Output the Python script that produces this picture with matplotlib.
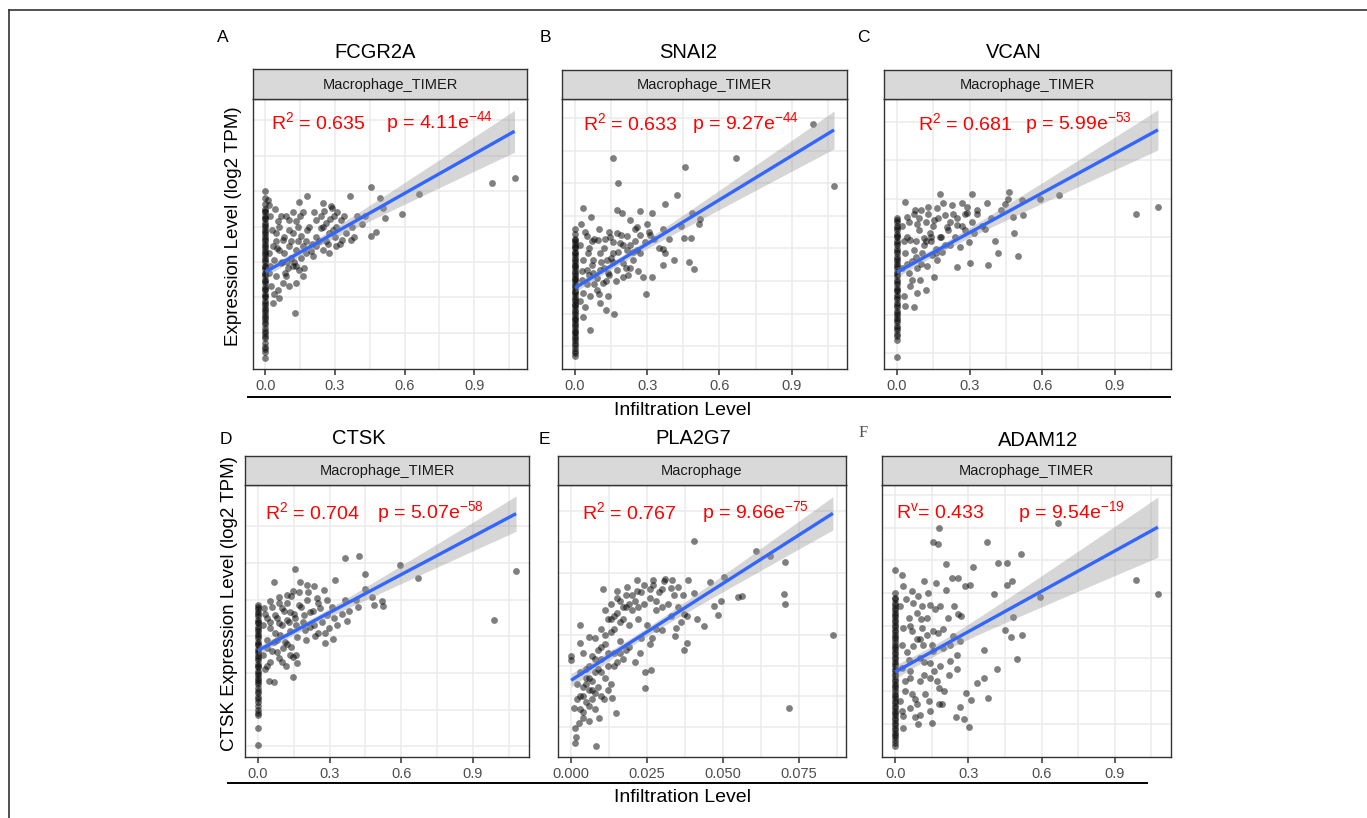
import matplotlib
matplotlib.use('Agg')
import matplotlib.pyplot as plt
from matplotlib.lines import Line2D
import numpy as np

plt.rcParams['font.family'] = ['Liberation Sans', 'DejaVu Sans']
plt.rcParams['mathtext.default'] = 'regular'

W, H = 1367, 818

genes = ['FCGR2A', 'SNAI2', 'VCAN', 'CTSK', 'PLA2G7', 'ADAM12']
letters = ['A', 'B', 'C', 'D', 'E', 'F']
strips = ['Macrophage_TIMER', 'Macrophage_TIMER', 'Macrophage_TIMER',
          'Macrophage_TIMER', 'Macrophage', 'Macrophage_TIMER']
r2_labels = ['R$^{2}$ = 0.635', 'R$^{2}$ = 0.633', 'R$^{2}$ = 0.681',
             'R$^{2}$ = 0.704', 'R$^{2}$ = 0.767', 'R$^{v}$= 0.433']
p_labels = ['p = 4.11e$^{-44}$', 'p = 9.27e$^{-44}$', 'p = 5.99e$^{-53}$',
            'p = 5.07e$^{-58}$', 'p = 9.66e$^{-75}$', 'p = 9.54e$^{-19}$']
ylabel_top = 'Expression Level (log2 TPM)'
ylabel_bottom = 'CTSK Expression Level (log2 TPM)'
xlabel = 'Infiltration Level'

# fitted line: value at x=0, value at the largest x,
# and half-width of the grey band at the largest x
fit_start = [3.72, 2.79, 3.10, 3.61, 2.52, 3.58]
fit_end = [7.69, 7.64, 6.79, 7.34, 7.94, 8.01]
band_end = [0.59, 0.58, 0.52, 0.48, 0.54, 0.92]

# ---- A: FCGR2A ----
x_a = [0.01, 0.017, 0.146, 0.177, 0.25, 0.289, 0.363, 0.164, 0.089, 0.053, 0.103, 0.131,
       0.046, 0.074, 0.117, 0.153, 0.189, 0.217, 0.239, 0.26, 0.274, 0.303, 0.324, 0.346,
       0.367, 0.331, 0.303, 0.274, 0.246, 0.217, 0.203, 0.174, 0.16, 0.131, 0.103, 0.081,
       0.06, 0.031, 0.039, 0.067, 0.096, 0.117, 0.146, 0.167, 0.046, 0.074, 0.053, 0.024,
       0.06, 0.103, 0.131, 0.031, 0.129, 0.017, 0.017,
       0.453, 0.493, 0.507, 0.517, 0.589, 0.663, 0.457, 0.477, 0.417, 0.396, 0.374, 0.977,
       1.074, 0.296, 0.281, 0.253,
       0.02, 0.03, 0.04, 0.05, 0.06, 0.07, 0.08, 0.09, 0.1, 0.11,
       0.12, 0.13, 0.14, 0.15, 0.16, 0.18, 0.2, 0.22, 0.24, 0.26,
       0.28, 0.3, 0.32, 0.02, 0.035, 0.045, 0.065, 0.085, 0.095, 0.11,
       0.125, 0.14, 0.155, 0.175, 0.195, 0.21, 0.23, 0.25, 0.27, 0.29,
       0.31, 0.34, 0.38, 0.43]
y_a = [5.76, 5.62, 5.68, 5.87, 5.66, 5.52, 5.85, 5.4, 5.29, 5.15, 5.19, 5.15,
       4.82, 4.63, 4.82, 4.72, 5.0, 5.19, 4.96, 5.1, 4.82, 5.0, 5.19, 4.82,
       4.63, 4.63, 4.44, 4.25, 4.35, 4.44, 4.16, 4.25, 4.44, 4.35, 4.44, 4.25,
       4.35, 4.44, 4.07, 3.97, 3.83, 3.88, 3.78, 3.83, 3.6, 3.41, 3.22, 3.31,
       2.99, 3.31, 3.41, 2.85, 2.56, 3.69, 4.25,
       6.11, 5.8, 5.52, 5.24, 5.35, 5.92, 4.74, 4.85, 5.08, 5.29, 5.0, 6.23,
       6.36, 5.29, 5.57, 5.43,
       5.3, 4.9, 5.5, 4.4, 5.0, 4.0, 4.7, 3.6, 4.9, 4.1,
       5.4, 3.9, 4.6, 5.3, 3.6, 4.9, 4.5, 4.7, 5.3, 4.6,
       5.2, 4.7, 4.5, 3.9, 3.1, 4.6, 5.3, 3.7, 4.0, 4.6,
       4.0, 5.0, 4.1, 4.6, 4.3, 5.4, 4.6, 5.0, 4.5, 4.9,
       5.4, 5.3, 4.7, 5.3]
y_a_zero = [6.0, 5.8, 5.65, 5.5, 5.4, 5.3, 5.2, 5.1, 5.0, 4.9, 4.8, 4.7, 4.6, 4.5, 4.4,
            4.3, 4.2, 4.1, 4.0, 3.9, 3.8, 3.7, 3.6, 3.5, 3.4, 3.3, 3.2, 3.1, 3.0, 2.9,
            2.8, 2.7, 2.6, 2.5, 2.4, 2.3, 2.15, 2.0, 1.85, 1.7, 1.55, 1.45, 1.3,
            5.45, 5.25, 5.05, 4.85, 4.65, 4.45, 4.25, 4.05, 3.85, 3.65, 3.45, 3.25,
            3.05, 2.85, 2.65, 2.45, 2.25, 2.05, 1.9, 1.6]

# ---- B: SNAI2 ----
x_b = [0.99, 1.076, 0.669, 0.157, 0.458, 0.18, 0.422, 0.374, 0.032, 0.067,
       0.025, 0.176, 0.194, 0.229, 0.27, 0.321, 0.298, 0.259, 0.309, 0.367,
       0.485, 0.519, 0.515, 0.454, 0.482, 0.367, 0.374, 0.411, 0.475, 0.496,
       0.367, 0.319, 0.284, 0.295, 0.162, 0.129, 0.062, 0.035,
       0.048, 0.069, 0.097, 0.125, 0.145, 0.173, 0.187, 0.215, 0.249, 0.27,
       0.242, 0.2, 0.159, 0.132, 0.104, 0.076, 0.055, 0.035, 0.048, 0.076,
       0.104, 0.139, 0.173, 0.2, 0.118, 0.09, 0.062, 0.035, 0.104, 0.139,
       0.028, 0.229, 0.256, 0.215,
       0.02, 0.03, 0.04, 0.05, 0.06, 0.07, 0.08, 0.09, 0.1, 0.11,
       0.12, 0.13, 0.14, 0.15, 0.16, 0.17, 0.19, 0.21, 0.23, 0.25,
       0.27, 0.29, 0.31, 0.33, 0.02, 0.04, 0.06, 0.08, 0.1, 0.12,
       0.14, 0.16, 0.18, 0.2, 0.22, 0.24, 0.26, 0.35, 0.39, 0.44]
y_b = [7.82, 5.93, 6.79, 6.79, 6.49, 6.02, 5.63, 5.36, 5.24, 4.96,
       4.76, 5.19, 5.08, 4.88, 5.14, 5.08, 4.76, 4.66, 4.52, 4.59,
       5.08, 4.91, 4.76, 4.32, 4.32, 3.98, 3.86, 3.65, 3.58, 3.38,
       3.5, 3.11, 3.11, 2.6, 1.99, 2.1, 1.51, 1.89,
       4.37, 4.22, 4.27, 4.29, 4.35, 4.47, 4.17, 3.96, 4.22, 3.86,
       3.65, 3.55, 3.86, 3.65, 3.86, 3.65, 3.86, 3.65, 3.35, 3.25,
       3.35, 3.25, 3.35, 3.14, 2.94, 2.74, 2.53, 2.63, 2.33, 2.53,
       3.04, 3.4, 3.96, 4.37,
       4.1, 3.3, 4.5, 2.9, 4.0, 3.5, 4.3, 3.1, 4.6, 3.6,
       4.0, 3.0, 4.5, 3.7, 4.2, 3.0, 4.4, 3.4, 4.1, 4.6,
       4.4, 4.2, 4.4, 4.3, 2.4, 2.2, 3.2, 2.9, 2.6, 3.4,
       3.2, 3.6, 3.9, 4.1, 3.2, 3.9, 3.3, 4.0, 4.3, 4.7]
y_b_zero = [4.6, 4.45, 4.3, 4.2, 4.1, 4.0, 3.9, 3.8, 3.7, 3.6, 3.5, 3.4, 3.3, 3.2, 3.1,
            3.0, 2.9, 2.8, 2.7, 2.6, 2.5, 2.4, 2.3, 2.2, 2.1, 2.0, 1.9, 1.8, 1.7, 1.6,
            1.5, 1.4, 1.3, 1.2, 1.1, 0.95, 0.8, 0.7,
            4.25, 4.05, 3.85, 3.65, 3.45, 3.25, 3.05, 2.85, 2.65, 2.45, 2.25, 2.05,
            1.85, 1.65, 1.45, 1.25, 1.05, 0.85]

# ---- C: VCAN ----
x_c = [0.99, 1.079, 0.668, 0.593, 0.462, 0.448, 0.517, 0.52, 0.478, 0.482,
       0.499, 0.418, 0.376, 0.404, 0.365, 0.31, 0.176, 0.032, 0.249, 0.3,
       0.072, 0.032, 0.083, 0.12,
       0.041, 0.083, 0.09, 0.127, 0.165, 0.2, 0.227, 0.269, 0.289, 0.331,
       0.372, 0.221, 0.248, 0.283, 0.317, 0.179, 0.138, 0.11, 0.055, 0.034,
       0.069, 0.103, 0.145, 0.186, 0.221, 0.262, 0.296, 0.165, 0.124, 0.083,
       0.048, 0.152, 0.096, 0.055, 0.028, 0.207, 0.152, 0.076,
       0.02, 0.03, 0.04, 0.05, 0.06, 0.07, 0.08, 0.09, 0.1, 0.11,
       0.12, 0.13, 0.14, 0.15, 0.16, 0.17, 0.19, 0.21, 0.23, 0.25,
       0.27, 0.29, 0.31, 0.33, 0.35, 0.02, 0.04, 0.06, 0.08, 0.1,
       0.12, 0.14, 0.16, 0.18, 0.2, 0.24, 0.28, 0.39, 0.43, 0.46]
y_c = [4.61, 4.8, 5.1, 4.99, 5.17, 4.87, 4.97, 4.58, 4.54, 4.11,
       3.52, 3.59, 3.29, 3.92, 4.21, 5.14, 5.13, 4.93, 3.23, 3.33,
       2.21, 2.23, 2.55, 2.64,
       4.54, 4.35, 4.2, 4.78, 4.76, 4.58, 4.84, 4.9, 4.63, 4.71,
       4.89, 4.41, 4.32, 4.2, 4.11, 4.02, 4.11, 3.98, 3.94, 3.59,
       3.68, 3.59, 3.55, 3.63, 3.81, 3.76, 3.89, 3.42, 3.25, 3.2,
       3.07, 2.97, 2.9, 2.73, 2.47, 4.28, 4.45, 4.71,
       4.3, 3.9, 4.0, 4.4, 3.4, 4.6, 3.9, 4.5, 4.7, 3.8,
       4.4, 4.6, 3.9, 4.3, 3.7, 4.5, 4.9, 4.2, 4.6, 4.5,
       4.3, 4.8, 4.4, 4.6, 4.3, 3.2, 3.3, 2.9, 3.5, 3.3,
       3.9, 4.0, 3.6, 4.0, 3.8, 4.0, 4.6, 4.5, 4.7, 5.0]
y_c_zero = [4.5, 4.4, 4.3, 4.2, 4.1, 4.0, 3.9, 3.8, 3.7, 3.6, 3.5, 3.4, 3.3, 3.2, 3.1,
            3.0, 2.9, 2.8, 2.7, 2.6, 2.5, 2.4, 2.3, 2.2, 2.1, 2.0, 1.9, 1.8, 1.7, 1.6,
            1.5, 1.35, 0.89,
            4.45, 4.25, 4.05, 3.85, 3.65, 3.45, 3.25, 3.05, 2.85, 2.65, 2.45, 2.25,
            2.05, 1.85, 1.65, 1.45]

# ---- D: CTSK ----
x_d = [1.081, 0.989, 0.67, 0.596, 0.424, 0.363, 0.448, 0.156, 0.066, 0.321,
       0.477, 0.519, 0.523, 0.484, 0.419, 0.373, 0.363, 0.282, 0.313, 0.296,
       0.251, 0.149, 0.045, 0.068, 0.117, 0.163, 0.149,
       0.024, 0.052, 0.087, 0.121, 0.149, 0.177, 0.205, 0.233, 0.275, 0.247,
       0.205, 0.17, 0.135, 0.1, 0.073, 0.038, 0.052, 0.087, 0.121, 0.156,
       0.191, 0.219, 0.261, 0.289, 0.317, 0.233, 0.198, 0.163, 0.135, 0.093,
       0.066, 0.038, 0.08, 0.107, 0.135, 0.052, 0.087, 0.031, 0.114, 0.219,
       0.02, 0.03, 0.04, 0.05, 0.06, 0.07, 0.08, 0.09, 0.1, 0.11,
       0.12, 0.13, 0.14, 0.15, 0.16, 0.17, 0.18, 0.19, 0.21, 0.23,
       0.25, 0.27, 0.29, 0.31, 0.33, 0.35, 0.02, 0.04, 0.06, 0.08,
       0.1, 0.12, 0.14, 0.16, 0.2, 0.24, 0.28, 0.38, 0.41, 0.45]
y_d = [5.79, 4.43, 5.59, 5.93, 6.18, 6.13, 5.69, 5.84, 5.49, 5.52,
       5.06, 4.95, 4.83, 4.86, 4.81, 4.42, 4.99, 3.81, 3.93, 4.22,
       4.08, 2.9, 2.79, 2.76, 3.2, 3.26, 3.44,
       4.76, 4.95, 5.06, 5.13, 5.22, 5.49, 5.4, 5.36, 5.27, 5.04,
       4.99, 4.86, 4.67, 4.76, 4.58, 4.49, 4.22, 4.35, 4.45, 4.49,
       4.58, 4.67, 4.76, 4.58, 4.49, 4.31, 4.17, 3.99, 4.13, 4.04,
       3.85, 3.67, 3.58, 3.67, 3.49, 3.31, 3.4, 3.12, 3.85, 4.26,
       4.3, 4.6, 3.9, 4.4, 4.8, 4.1, 4.5, 4.9, 4.3, 4.7,
       4.9, 4.4, 5.1, 4.6, 4.3, 5.2, 4.8, 4.4, 5.2, 4.7,
       4.9, 4.4, 5.0, 4.8, 4.3, 4.6, 3.5, 3.2, 3.6, 3.9,
       3.3, 3.8, 3.7, 3.5, 3.9, 4.0, 4.1, 4.7, 5.0, 5.3]
y_d_zero = [4.85, 4.75, 4.65, 4.55, 4.45, 4.35, 4.25, 4.15, 4.05, 3.95, 3.85, 3.75,
            3.65, 3.55, 3.45, 3.35, 3.25, 3.15, 3.05, 2.95, 2.85, 2.75, 2.6, 2.45,
            2.3, 2.1, 1.9, 1.5, 1.03,
            4.8, 4.6, 4.4, 4.2, 4.0, 3.8, 3.6, 3.4, 3.2, 3.0, 2.8, 2.7, 2.5, 2.35,
            2.2, 2.0, 1.85]

# ---- E: PLA2G7 ----
x_e = [0.0405, 0.0608, 0.0654, 0.0704, 0.0861, 0.0717, 0.0701, 0.0704, 0.055, 0.0563,
       0.0503, 0.0457, 0.0493, 0.0471, 0.0484, 0.0437, 0.0415, 0.0386, 0.0331, 0.0304,
       0.0271, 0.0216, 0.0351, 0.0329, 0.0367, 0.0403, 0.037, 0.038, 0.0345, 0.0342,
       0.038, 0.037, 0.0298, 0.0266, 0.0227, 0.0244, 0.0263, 0.0244, 0.0149, 0.0134,
       0.0107, 0.0092, 0.0082, 0.0012, 0.0017, 0.0014, 0.0025, 0.0009, 0.0, 0.0,
       0.0028, 0.0058, 0.003, 0.0105, 0.0151, 0.0184, 0.0216,
       0.003, 0.004, 0.005, 0.003, 0.006, 0.005, 0.004, 0.007, 0.006, 0.008,
       0.007, 0.009, 0.008, 0.010, 0.011, 0.010, 0.012, 0.011, 0.013, 0.014,
       0.013, 0.015, 0.016, 0.017, 0.018, 0.016, 0.018, 0.019, 0.020, 0.021,
       0.022, 0.023, 0.024, 0.025, 0.026, 0.027, 0.028, 0.029, 0.030, 0.031,
       0.032, 0.012, 0.014, 0.009, 0.010, 0.006, 0.008, 0.011, 0.013, 0.004,
       0.002, 0.002, 0.005, 0.007, 0.015, 0.017, 0.019, 0.021, 0.023, 0.026,
       0.028, 0.033, 0.035, 0.034, 0.036,
       0.003, 0.004, 0.005, 0.006, 0.007, 0.008, 0.009, 0.01, 0.011, 0.012,
       0.013, 0.014, 0.015, 0.016, 0.017, 0.018, 0.019, 0.02, 0.022, 0.024,
       0.026, 0.028, 0.03, 0.004, 0.006, 0.008, 0.01, 0.012, 0.014, 0.016]
y_e = [7.03, 6.72, 6.54, 6.36, 3.98, 1.63, 5.32, 5.01, 5.22, 5.25,
       5.86, 5.71, 5.1, 4.92, 4.63, 4.28, 4.52, 5.78, 5.79, 5.73,
       5.76, 5.76, 5.54, 5.51, 5.3, 5.35, 4.67, 4.62, 4.22, 3.95,
       3.73, 3.49, 4.16, 3.89, 3.41, 2.78, 2.87, 2.27, 1.46, 1.93,
       1.9, 1.3, 0.38, 0.49, 0.68, 0.98, 1.14, 1.63, 3.19, 3.3,
       4.3, 3.93, 3.73, 5.48, 5.41, 5.56, 5.41,
       2.0, 2.3, 2.6, 2.8, 2.2, 1.8, 1.5, 2.5, 3.0, 2.8,
       3.3, 3.5, 3.9, 3.2, 3.7, 4.2, 4.5, 4.8, 4.1, 4.6,
       5.0, 5.2, 4.4, 4.9, 5.3, 3.8, 3.5, 4.3, 4.8, 5.1,
       4.5, 5.4, 5.0, 4.3, 5.2, 5.6, 4.8, 5.4, 4.9, 5.8,
       5.0, 3.0, 3.4, 2.3, 2.0, 1.2, 1.6, 2.6, 2.4, 3.4,
       2.4, 1.9, 2.9, 1.9, 3.1, 3.2, 3.6, 3.1, 3.9, 3.7,
       4.2, 4.6, 4.9, 5.3, 4.4,
       1.6, 2.0, 2.4, 2.6, 2.2, 3.2, 2.9, 3.6, 4.0, 3.4,
       4.5, 4.2, 4.7, 5.1, 4.5, 4.9, 5.0, 5.3, 4.9, 5.6,
       5.5, 5.1, 5.5, 1.3, 1.7, 2.1, 2.8, 2.2, 3.0, 3.4]

# ---- F: ADAM12 ----
x_f = [0.668, 0.181, 0.157, 0.176, 0.375, 0.515, 0.207, 0.423, 0.46, 0.32,
       0.989, 1.077, 0.593, 0.405, 0.481, 0.457, 0.484, 0.522, 0.475, 0.45,
       0.498, 0.416, 0.365, 0.365, 0.334, 0.379, 0.311, 0.29, 0.303, 0.282,
       0.25, 0.266, 0.232, 0.259, 0.286, 0.307, 0.027,
       0.034, 0.068, 0.095, 0.119, 0.168, 0.143, 0.184, 0.218, 0.259, 0.13,
       0.089, 0.055, 0.034, 0.068, 0.109, 0.157, 0.177, 0.239, 0.266, 0.075,
       0.116, 0.157, 0.198, 0.225, 0.252, 0.184, 0.143, 0.102, 0.055, 0.027,
       0.061, 0.102, 0.143, 0.17, 0.123, 0.082, 0.041, 0.061, 0.102, 0.15,
       0.191, 0.034, 0.143, 0.095, 0.034,
       0.02, 0.03, 0.045, 0.06, 0.075, 0.09, 0.105, 0.12, 0.135, 0.15,
       0.165, 0.18, 0.195, 0.21, 0.225, 0.24, 0.255, 0.27,
       0.02, 0.04, 0.06, 0.08, 0.1, 0.12, 0.14, 0.16, 0.18, 0.2, 0.22,
       0.03, 0.05, 0.07, 0.09, 0.11, 0.13]
y_f = [8.13, 7.98, 7.57, 7.49, 7.57, 7.19, 6.89, 6.92, 6.92, 6.79,
       6.4, 5.97, 5.87, 5.97, 6.35, 6.25, 5.26, 4.71, 4.66, 4.85,
       3.99, 3.68, 4.26, 3.4, 3.25, 2.77, 2.72, 2.95, 1.9, 2.15,
       2.2, 2.52, 6.46, 6.46, 6.2, 6.23, 6.54,
       6.2, 6.05, 5.9, 6.35, 6.3, 5.64, 5.59, 5.23, 5.36, 5.23,
       5.39, 5.23, 4.93, 4.83, 4.93, 4.83, 4.78, 4.68, 4.52, 4.37,
       4.42, 4.22, 4.32, 3.91, 3.66, 3.76, 3.86, 4.01, 3.96, 3.71,
       3.4, 3.3, 3.4, 3.3, 2.9, 2.74, 3.0, 2.49, 2.28, 2.03,
       2.59, 2.23, 2.39, 1.98, 1.88,
       5.6, 4.4, 5.8, 3.6, 5.7, 4.6, 5.2, 3.5, 6.0, 4.4,
       5.5, 3.1, 4.9, 6.1, 4.4, 5.6, 4.1, 5.3,
       2.7, 3.3, 5.0, 2.2, 4.6, 3.9, 2.7, 3.6, 2.6, 3.0, 3.5,
       2.4, 4.2, 2.9, 2.6, 5.6, 4.7]
y_f_zero = [6.7, 6.0, 5.85, 5.7, 5.55, 5.4, 5.25, 5.1, 4.95, 4.8, 4.65, 4.5, 4.35,
            4.2, 4.05, 3.9, 3.75, 3.6, 3.45, 3.3, 3.15, 3.0, 2.85, 2.7, 2.55, 2.4,
            2.25, 2.1, 1.95, 1.8, 1.65, 1.5, 1.32,
            5.8, 5.62, 5.48, 5.32, 5.18, 5.02, 4.88, 4.72, 4.58, 4.42, 4.28, 4.12,
            3.98, 3.82, 3.68, 3.52, 3.38, 3.22, 3.08, 2.92, 2.78, 2.62, 2.48, 2.32,
            2.18, 2.02, 1.88, 1.72, 1.58, 1.42]

x_ticks_std = [0.0, 0.3, 0.6, 0.9]
x_minor_std = [0.15, 0.45, 0.75, 1.05]
x_ticks_e = [0.000, 0.025, 0.050, 0.075]
x_minor_e = [0.0125, 0.0375, 0.0625, 0.0875]

fig = plt.figure(figsize=(W / 100, H / 100), dpi=100)


def px_axes(l, t, r, b):
    return fig.add_axes([l / W, 1 - b / H, (r - l) / W, (b - t) / H])


def ftext(x, y, s, **kw):
    fig.text(x / W, 1 - y / H, s, **kw)


def fline(x1, x2, y1, y2, **kw):
    fig.add_artist(Line2D([x1 / W, x2 / W], [1 - y1 / H, 1 - y2 / H],
                          transform=fig.transFigure, **kw))


def panel(i, box, strip_top, xs, ys, zeros, xmaj, xmin, fmt, ylim, ygrid,
          r2x, pvx, ty):
    l, t, r, b = box
    xs = np.concatenate([np.asarray(xs, float), np.zeros(len(zeros))])
    ys = np.concatenate([np.asarray(ys, float), np.asarray(zeros, float)])

    ax = px_axes(l, t, r, b)
    ax.set_xticks(xmaj)
    ax.set_xticks(xmin, minor=True)
    ax.set_xticklabels([fmt % v for v in xmaj])
    ax.set_yticks(ygrid)
    ax.set_yticklabels([])
    ax.grid(which='both', color='#ebebeb', lw=1.1)
    ax.set_axisbelow(True)
    ax.tick_params(axis='y', length=0)
    ax.tick_params(axis='x', which='major', length=4, width=1.1, color='#333333',
                   labelsize=10.5, labelcolor='#4d4d4d', pad=3)
    ax.tick_params(axis='x', which='minor', length=0)
    for sp in ax.spines.values():
        sp.set_color('#333333')
        sp.set_linewidth(1.0)

    ax.scatter(xs, ys, s=24, c='black', alpha=0.5, linewidths=0, zorder=2)

    # line through the read end values, band shaped like an OLS confidence band
    xmax = xs.max()
    xx = np.linspace(0, xmax, 120)
    fit = fit_start[i] + (fit_end[i] - fit_start[i]) * xx / xmax
    n = len(xs)
    sxx = np.sum((xs - xs.mean()) ** 2)
    shape = np.sqrt(1 / n + (xx - xs.mean()) ** 2 / sxx)
    half = band_end[i] * shape / shape[-1]
    ax.fill_between(xx, fit - half, fit + half, color='#999999',
                    alpha=0.4, linewidth=0, zorder=3)
    ax.plot(xx, fit, color='#3366FF', lw=2.4, zorder=4, solid_capstyle='butt')

    ax.margins(x=0.05)
    ax.set_ylim(ylim)

    ax.text(r2x, ty, r2_labels[i], transform=ax.transAxes, color='red', fontsize=14,
            va='center', ha='left')
    ax.text(pvx, ty, p_labels[i], transform=ax.transAxes, color='red', fontsize=14,
            va='center', ha='left')

    sax = px_axes(l, strip_top, r, t)
    sax.set_facecolor('#d9d9d9')
    sax.set_xticks([])
    sax.set_yticks([])
    for sp in sax.spines.values():
        sp.set_color('#333333')
        sp.set_linewidth(1.0)
    sax.text(0.5, 0.47, strips[i], transform=sax.transAxes, ha='center', va='center',
             fontsize=10.5, color='#1a1a1a')
    return ax


panel(0, (253, 99, 527, 369), 69, x_a, y_a, y_a_zero, x_ticks_std, x_minor_std, '%.1f',
      (0.98, 8.6), [2, 3, 4, 5, 6, 7, 8], 0.065, 0.485, 0.915)
panel(1, (562, 99, 847, 369), 70, x_b, y_b, y_b_zero, x_ticks_std, x_minor_std, '%.1f',
      (0.30, 8.59), [1, 2, 3, 4, 5, 6, 7, 8], 0.075, 0.455, 0.91)
panel(2, (884, 99, 1171, 369), 70, x_c, y_c, y_c_zero, x_ticks_std, x_minor_std, '%.1f',
      (0.59, 7.59), [1, 2, 3, 4, 5, 6, 7], 0.12, 0.49, 0.91)
panel(3, (245, 485, 529, 757), 456, x_d, y_d, y_d_zero, x_ticks_std, x_minor_std, '%.1f',
      (0.71, 8.12), [1, 2, 3, 4, 5, 6, 7], 0.072, 0.465, 0.9)
panel(4, (558, 485, 846, 757), 456, x_e, y_e, [], x_ticks_e, x_minor_e, '%.3f',
      (0.03, 8.86), [1, 2, 3, 4, 5, 6, 7, 8], 0.085, 0.5, 0.9)
panel(5, (882, 485, 1171, 757), 456, x_f, y_f, y_f_zero, x_ticks_std, x_minor_std, '%.1f',
      (0.98, 9.3), [2, 3, 4, 5, 6, 7, 8, 9], 0.05, 0.47, 0.9)

# titles and panel letters
title_pos = [(375, 53), (688, 53), (1014, 53), (359, 438), (693, 438), (1038, 440)]
letter_pos = [(223, 37), (545, 37), (863, 37), (226, 439), (544, 439), (863, 433)]
for g, (tx, ty) in zip(genes, title_pos):
    ftext(tx, ty, g, ha='center', va='center', fontsize=14.5, color='black')
for i, (lx, ly) in enumerate(letter_pos):
    if letters[i] == 'F':
        ftext(lx, ly, letters[i], ha='center', va='center', fontsize=12,
              color='#555555', family=['Liberation Serif', 'DejaVu Serif'])
    else:
        ftext(lx, ly, letters[i], ha='center', va='center', fontsize=12.5,
              color='black')

ftext(233, 226, ylabel_top, rotation=90, ha='center', va='center', fontsize=13.5)
ftext(229, 604, ylabel_bottom, rotation=90, ha='center', va='center', fontsize=13.5)
ftext(682, 411, xlabel, ha='center', va='center', fontsize=14)
ftext(682, 798, xlabel, ha='center', va='center', fontsize=14)

fline(248, 1170, 397, 397, color='black', lw=1.4)
fline(228, 1147, 783, 783, color='black', lw=1.4)

# outer frame (left and top edges)
fline(9, 9, 10, 818, color='#333333', lw=1.2)
fline(9, 1367, 10, 10, color='#333333', lw=1.2)

fig.savefig('out.png', dpi=100)
